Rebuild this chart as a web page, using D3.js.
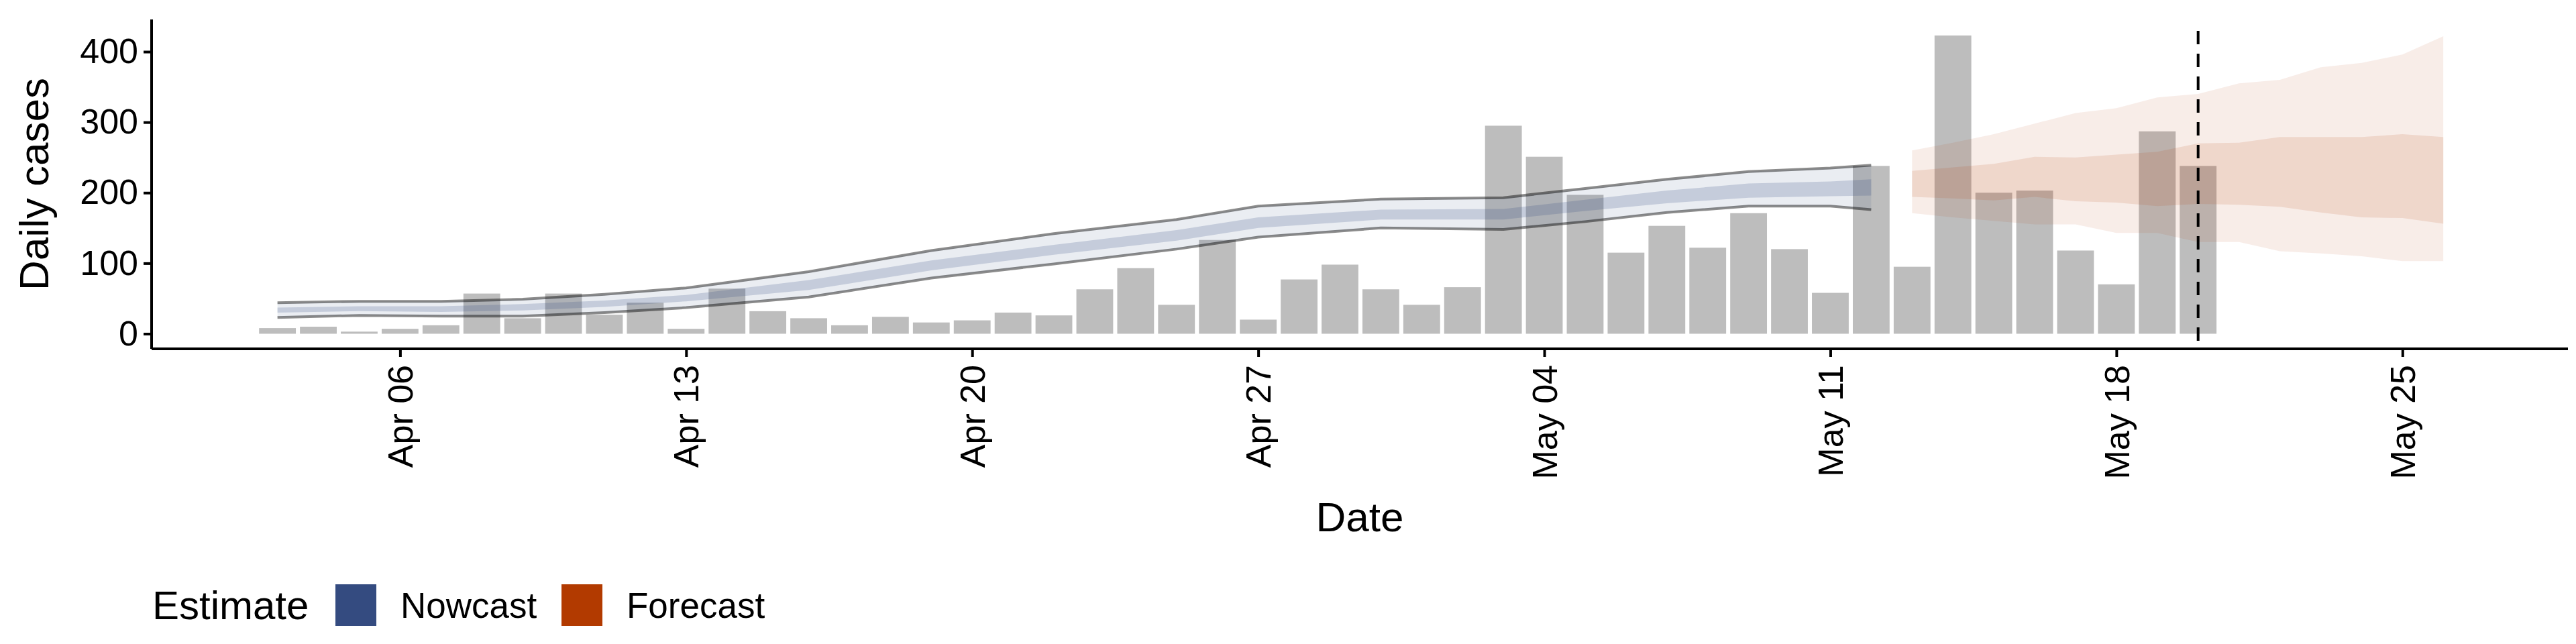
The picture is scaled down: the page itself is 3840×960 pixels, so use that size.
<!DOCTYPE html>
<html>
<head>
<meta charset="utf-8">
<script src="https://cdn.jsdelivr.net/npm/d3@7"></script>
<style>
  body { margin: 0; background: #fff; }
  text { font-family: "Liberation Sans", Arial, sans-serif; }
</style>
</head>
<body>
<svg id="chart" width="3840" height="960"></svg>
<script>
// daily reported cases, Apr 03 .. May 20
const caseStart = "2020-04-03";
const cases = [8, 10, 3, 7, 12, 57, 22, 57, 27, 44, 7, 64, 32, 22, 12, 24, 16, 19, 30, 26,
  63, 93, 41, 133, 20, 77, 98, 63, 41, 66, 295, 251, 197, 115, 153, 122, 171, 120, 58, 238,
  95, 423, 200, 203, 118, 70, 287, 238];

// nowcast intervals
const nowDates = ["2020-04-03", "2020-04-05", "2020-04-07", "2020-04-09", "2020-04-11", "2020-04-13",
  "2020-04-16", "2020-04-19", "2020-04-22", "2020-04-25", "2020-04-27", "2020-04-30", "2020-05-03",
  "2020-05-05", "2020-05-07", "2020-05-09", "2020-05-11", "2020-05-12"];
const nowHi90 = [44, 46, 46, 49, 56, 65, 88, 118, 142, 162, 181, 191, 193, 206, 219, 230, 235, 239];
const nowLo90 = [23, 26, 25, 25, 30, 37, 52, 79, 99, 120, 137, 150, 148, 159, 172, 181, 181, 176];
const nowHi50 = [37, 39, 39, 42, 47, 55, 76, 104, 126, 147, 165, 176, 177, 190, 203, 213, 216, 219];
const nowLo50 = [30, 32, 31, 33, 38, 46, 62, 90, 112, 132, 150, 162, 162, 174, 185, 193, 195, 196];

// forecast intervals, May 13 .. May 26
const fcStart = "2020-05-13";
const fcHi90 = [260, 271, 283, 298, 313, 320, 335, 340, 355, 360, 378, 384, 396, 422];
const fcLo90 = [171, 165, 160, 155, 155, 143, 143, 130, 130, 117, 114, 110, 103, 103];
const fcHi50 = [231, 236, 241, 251, 250, 254, 258, 270, 271, 279, 279, 279, 283, 279];
const fcLo50 = [194, 192, 189, 194, 188, 186, 181, 184, 183, 180, 172, 165, 164, 156];

const cutoff = "2020-05-20";
const xTicks = ["2020-04-06", "2020-04-13", "2020-04-20", "2020-04-27", "2020-05-04", "2020-05-11", "2020-05-18", "2020-05-25"];
const yTicks = [0, 100, 200, 300, 400];
const legendItems = [{ name: "Nowcast", color: "#344B80" }, { name: "Forecast", color: "#B23A00" }];

const DAY = 864e5;
const parse = d3.utcParse("%Y-%m-%d");
const addDays = (s, n) => new Date(parse(s).getTime() + n * DAY);

const svg = d3.select("#chart");
const pLeft = 226, pRight = 3828, pTop = 29, pBottom = 520;

const x = d3.scaleUtc()
  .domain([new Date(parse("2020-04-06").getTime() - 6.08 * DAY), new Date(parse("2020-05-25").getTime() + 4.05 * DAY)])
  .range([pLeft, pRight]);
const y = d3.scaleLinear().domain([-21.4, 445.7]).range([pBottom, pTop]);

// bars
const barW = (x(addDays(caseStart, 1)) - x(addDays(caseStart, 0))) * 0.9;
svg.append("g").selectAll("rect")
  .data(cases)
  .enter()
  .append("rect")
  .attr("x", (d, i) => x(addDays(caseStart, i)) - barW / 2)
  .attr("y", d => y(d))
  .attr("width", barW)
  .attr("height", d => y(0) - y(d))
  .attr("fill", "#BDBDBD");

function band(dates, lo, hi, color, op) {
  const pts = dates.map((d, i) => ({ d: d, lo: lo[i], hi: hi[i] }));
  svg.append("path")
    .datum(pts)
    .attr("d", d3.area().x(p => x(p.d)).y0(p => y(p.lo)).y1(p => y(p.hi)))
    .attr("fill", color)
    .attr("fill-opacity", op);
}

const nd = nowDates.map(parse);
const fd = fcHi90.map((v, i) => addDays(fcStart, i));
band(nd, nowLo90, nowHi90, "#344B80", 0.1);
band(nd, nowLo50, nowHi50, "#344B80", 0.2);
band(fd, fcLo90, fcHi90, "#B23A00", 0.09);
band(fd, fcLo50, fcHi50, "#B23A00", 0.12);

// interval edge lines
[nowHi90, nowLo90].forEach(arr => {
  svg.append("path")
    .datum(arr)
    .attr("d", d3.line().x((v, i) => x(nd[i])).y(v => y(v)))
    .attr("fill", "none")
    .attr("stroke", "#000")
    .attr("stroke-opacity", 0.45)
    .attr("stroke-width", 4);
});

// cutoff line
svg.append("line")
  .attr("x1", x(parse(cutoff))).attr("x2", x(parse(cutoff)))
  .attr("y1", 46).attr("y2", pBottom)
  .attr("stroke", "#000")
  .attr("stroke-width", 4)
  .attr("stroke-dasharray", "20,14");

// axes
const xAxis = svg.append("g")
  .attr("transform", `translate(0,${pBottom})`)
  .call(d3.axisBottom(x).tickValues(xTicks.map(parse)).tickFormat(d3.utcFormat("%b %d")).tickSizeOuter(0).tickSize(12).tickPadding(8));
xAxis.selectAll("text")
  .attr("font-size", 52)
  .attr("fill", "#000")
  .attr("transform", "rotate(-90)")
  .attr("text-anchor", "end")
  .attr("x", -24)
  .attr("y", 0)
  .attr("dy", "0.35em");

const yAxis = svg.append("g")
  .attr("transform", `translate(${pLeft},0)`)
  .call(d3.axisLeft(y).tickValues(yTicks).tickSizeOuter(0).tickSize(12).tickPadding(8));
yAxis.selectAll("text").attr("font-size", 52).attr("fill", "#000");

[xAxis, yAxis].forEach(a => {
  a.select(".domain").attr("stroke", "#000").attr("stroke-width", 4);
  a.selectAll(".tick line").attr("stroke", "#000").attr("stroke-width", 4);
});
yAxis.select(".domain").attr("d", `M0,${pTop}V${pBottom}`);
xAxis.select(".domain").attr("d", `M${pLeft},0H${pRight}`);

// titles
svg.append("text")
  .attr("transform", `translate(72,${(pTop + pBottom) / 2}) rotate(-90)`)
  .attr("text-anchor", "middle")
  .attr("font-size", 62)
  .text("Daily cases");

svg.append("text")
  .attr("x", (pLeft + pRight) / 2)
  .attr("y", 792)
  .attr("text-anchor", "middle")
  .attr("font-size", 62)
  .text("Date");

// legend
const legend = svg.append("g").attr("transform", "translate(227,902)");
legend.append("text").attr("x", 0).attr("y", 0).attr("dy", "0.35em").attr("font-size", 60).text("Estimate");
const keyX = [273, 610];
legendItems.forEach((it, i) => {
  legend.append("rect")
    .attr("x", keyX[i]).attr("y", -31)
    .attr("width", 61).attr("height", 62)
    .attr("fill", it.color);
  legend.append("text")
    .attr("x", keyX[i] + 97).attr("y", 0).attr("dy", "0.35em")
    .attr("font-size", 53)
    .text(it.name);
});
</script>
</body>
</html>
